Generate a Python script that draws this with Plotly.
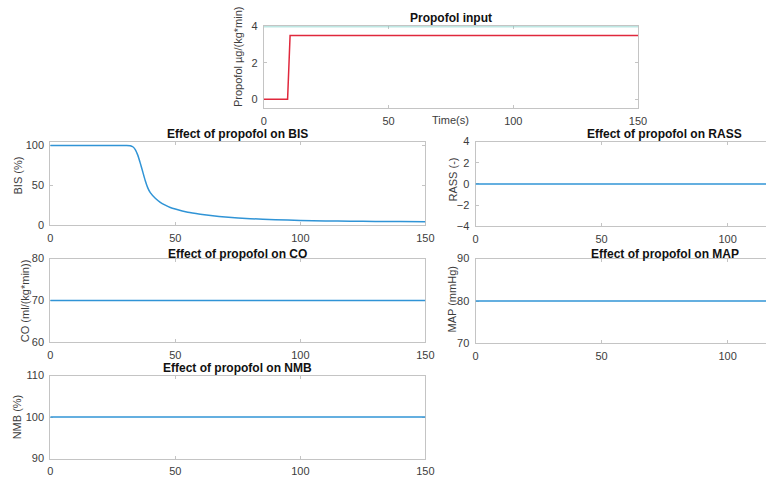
import plotly.graph_objects as go

W, H = 775, 485

# ---- data ----
t_input = [0, 9.5, 10.5, 150]
propofol_rate = [0, 0, 3.5, 3.5]
t_limit = [0, 150]
propofol_limit = [4, 4]

t_bis = [0, 30, 32, 33, 34, 35, 36, 37, 38, 39, 40, 42, 44, 46, 48, 50, 55, 60,
         65, 70, 80, 90, 100, 110, 120, 130, 140, 150]
bis = [100, 100, 99.8, 98.5, 95, 88, 78, 67, 56, 47, 41, 34, 29, 25.5, 22.5, 20.5,
       16.5, 14, 12, 10.5, 8.5, 7.2, 6.3, 5.7, 5.3, 5.0, 4.8, 4.6]

t_flat = [0, 150]
rass = [0, 0]
co = [70, 70]
map_ = [80, 80]
nmb = [100, 100]

x_ticks = [0, 50, 100, 150]

BLUE = "#3094d6"
RED = "#e0283c"
TEAL = "#7fd0c8"
AX = "#c4c4c4"
TXT = "#3c3c3c"
FONT = "Liberation Sans, Arial, sans-serif"
TICK_SIZE = 11


def px_x(p):
    return p / W


def px_y(p):
    return 1 - p / H


# panel specs: pixel box (left, top, right, bottom), ranges, ticks, labels
panels = [
    dict(box=(265, 21, 645, 105), xr=[0, 150], yr=[-0.5, 4], yt=[0, 2, 4],
         title="Propofol input", ty=12, ylab="Propofol µg/(kg*min)", ylx=238, yly=52,
         right=True),
    dict(box=(48, 139, 429, 225), xr=[0, 150], yr=[0, 105], yt=[0, 50, 100],
         title="Effect of propofol on BIS", ty=131, ylab="BIS (%)", ylx=15, yly=174,
         right=True),
    dict(box=(480, 139, 864, 226), xr=[0, 150], yr=[-4, 4], yt=[-4, -2, 0, 2, 4],
         title="Effect of propofol on RASS", ty=131, ylab="RASS (-)", ylx=457, yly=178,
         right=False),
    dict(box=(48, 259, 429, 345), xr=[0, 150], yr=[60, 80], yt=[60, 70, 80],
         title="Effect of propofol on CO", ty=254, ylab="CO (ml/(kg*min))", ylx=22, yly=302,
         right=True),
    dict(box=(480, 259, 864, 346), xr=[0, 150], yr=[70, 90], yt=[70, 80, 90],
         title="Effect of propofol on MAP", ty=254, ylab="MAP (mmHg)", ylx=456, yly=301,
         right=False),
    dict(box=(48, 379, 429, 464), xr=[0, 150], yr=[90, 110], yt=[90, 100, 110],
         title="Effect of propofol on NMB", ty=371, ylab="NMB (%)", ylx=14, yly=421,
         right=True),
]

fig = go.Figure()
layout = dict(
    width=W, height=H, margin=dict(l=0, r=0, t=0, b=0),
    paper_bgcolor="white", plot_bgcolor="white", showlegend=False,
    font=dict(family=FONT, size=12, color=TXT),
)
annotations = []

for i, p in enumerate(panels):
    n = "" if i == 0 else str(i + 1)
    l, t, r, b = p["box"]
    # panels that run past the right edge are clipped there
    r_vis = min(r, W)
    x_hi = p["xr"][0] + (p["xr"][1] - p["xr"][0]) * (r_vis - l) / (r - l)
    layout["xaxis" + n] = dict(
        domain=[px_x(l), px_x(r_vis)], anchor="y" + n, range=[p["xr"][0], x_hi],
        tickvals=x_ticks, ticks="inside", ticklen=3, tickcolor=AX,
        showline=True, linecolor=AX, linewidth=1, mirror="ticks",
        showgrid=False, zeroline=False, tickfont=dict(size=TICK_SIZE, color=TXT),
        ticklabelstandoff=2, layer="below traces",
    )
    layout["yaxis" + n] = dict(
        domain=[px_y(b), px_y(t)], anchor="x" + n, range=p["yr"],
        tickvals=p["yt"], ticks="inside", ticklen=3, tickcolor=AX,
        showline=True, linecolor=AX, linewidth=1,
        mirror="ticks" if p["right"] else False,
        showgrid=False, zeroline=False, tickfont=dict(size=TICK_SIZE, color=TXT),
        ticklabelstandoff=3, layer="below traces",
    )
    annotations.append(dict(
        text="<b>" + p["title"] + "</b>", xref="paper", yref="paper",
        x=px_x((l + r) / 2), y=px_y(p["ty"]), xanchor="center", yanchor="middle",
        showarrow=False, font=dict(size=12, color="#111111", family=FONT),
    ))
    annotations.append(dict(
        text=p["ylab"], xref="paper", yref="paper", textangle=-90,
        x=px_x(p["ylx"]), y=px_y(p["yly"]), xanchor="center", yanchor="middle",
        showarrow=False, font=dict(size=TICK_SIZE, color=TXT, family=FONT),
    ))

annotations.append(dict(
    text="Time(s)", xref="paper", yref="paper", x=px_x(455), y=px_y(117),
    xanchor="center", yanchor="middle", showarrow=False,
    font=dict(size=TICK_SIZE, color=TXT, family=FONT),
))

# propofol input panel
fig.add_trace(go.Scatter(x=t_limit, y=propofol_limit, mode="lines",
                         line=dict(color=TEAL, width=1.5), xaxis="x", yaxis="y",
                         cliponaxis=False))
fig.add_trace(go.Scatter(x=t_input, y=propofol_rate, mode="lines",
                         line=dict(color=RED, width=1.5), xaxis="x", yaxis="y"))
# effect panels
fig.add_trace(go.Scatter(x=t_bis, y=bis, mode="lines", line=dict(color=BLUE, width=1.5,
                         shape="spline", smoothing=0.6), xaxis="x2", yaxis="y2"))
fig.add_trace(go.Scatter(x=t_flat, y=rass, mode="lines", line=dict(color=BLUE, width=1.5),
                         xaxis="x3", yaxis="y3"))
fig.add_trace(go.Scatter(x=t_flat, y=co, mode="lines", line=dict(color=BLUE, width=1.5),
                         xaxis="x4", yaxis="y4"))
fig.add_trace(go.Scatter(x=t_flat, y=map_, mode="lines", line=dict(color=BLUE, width=1.5),
                         xaxis="x5", yaxis="y5"))
fig.add_trace(go.Scatter(x=t_flat, y=nmb, mode="lines", line=dict(color=BLUE, width=1.5),
                         xaxis="x6", yaxis="y6"))

layout["annotations"] = annotations
fig.update_layout(**layout)
fig.write_html("out.html")
